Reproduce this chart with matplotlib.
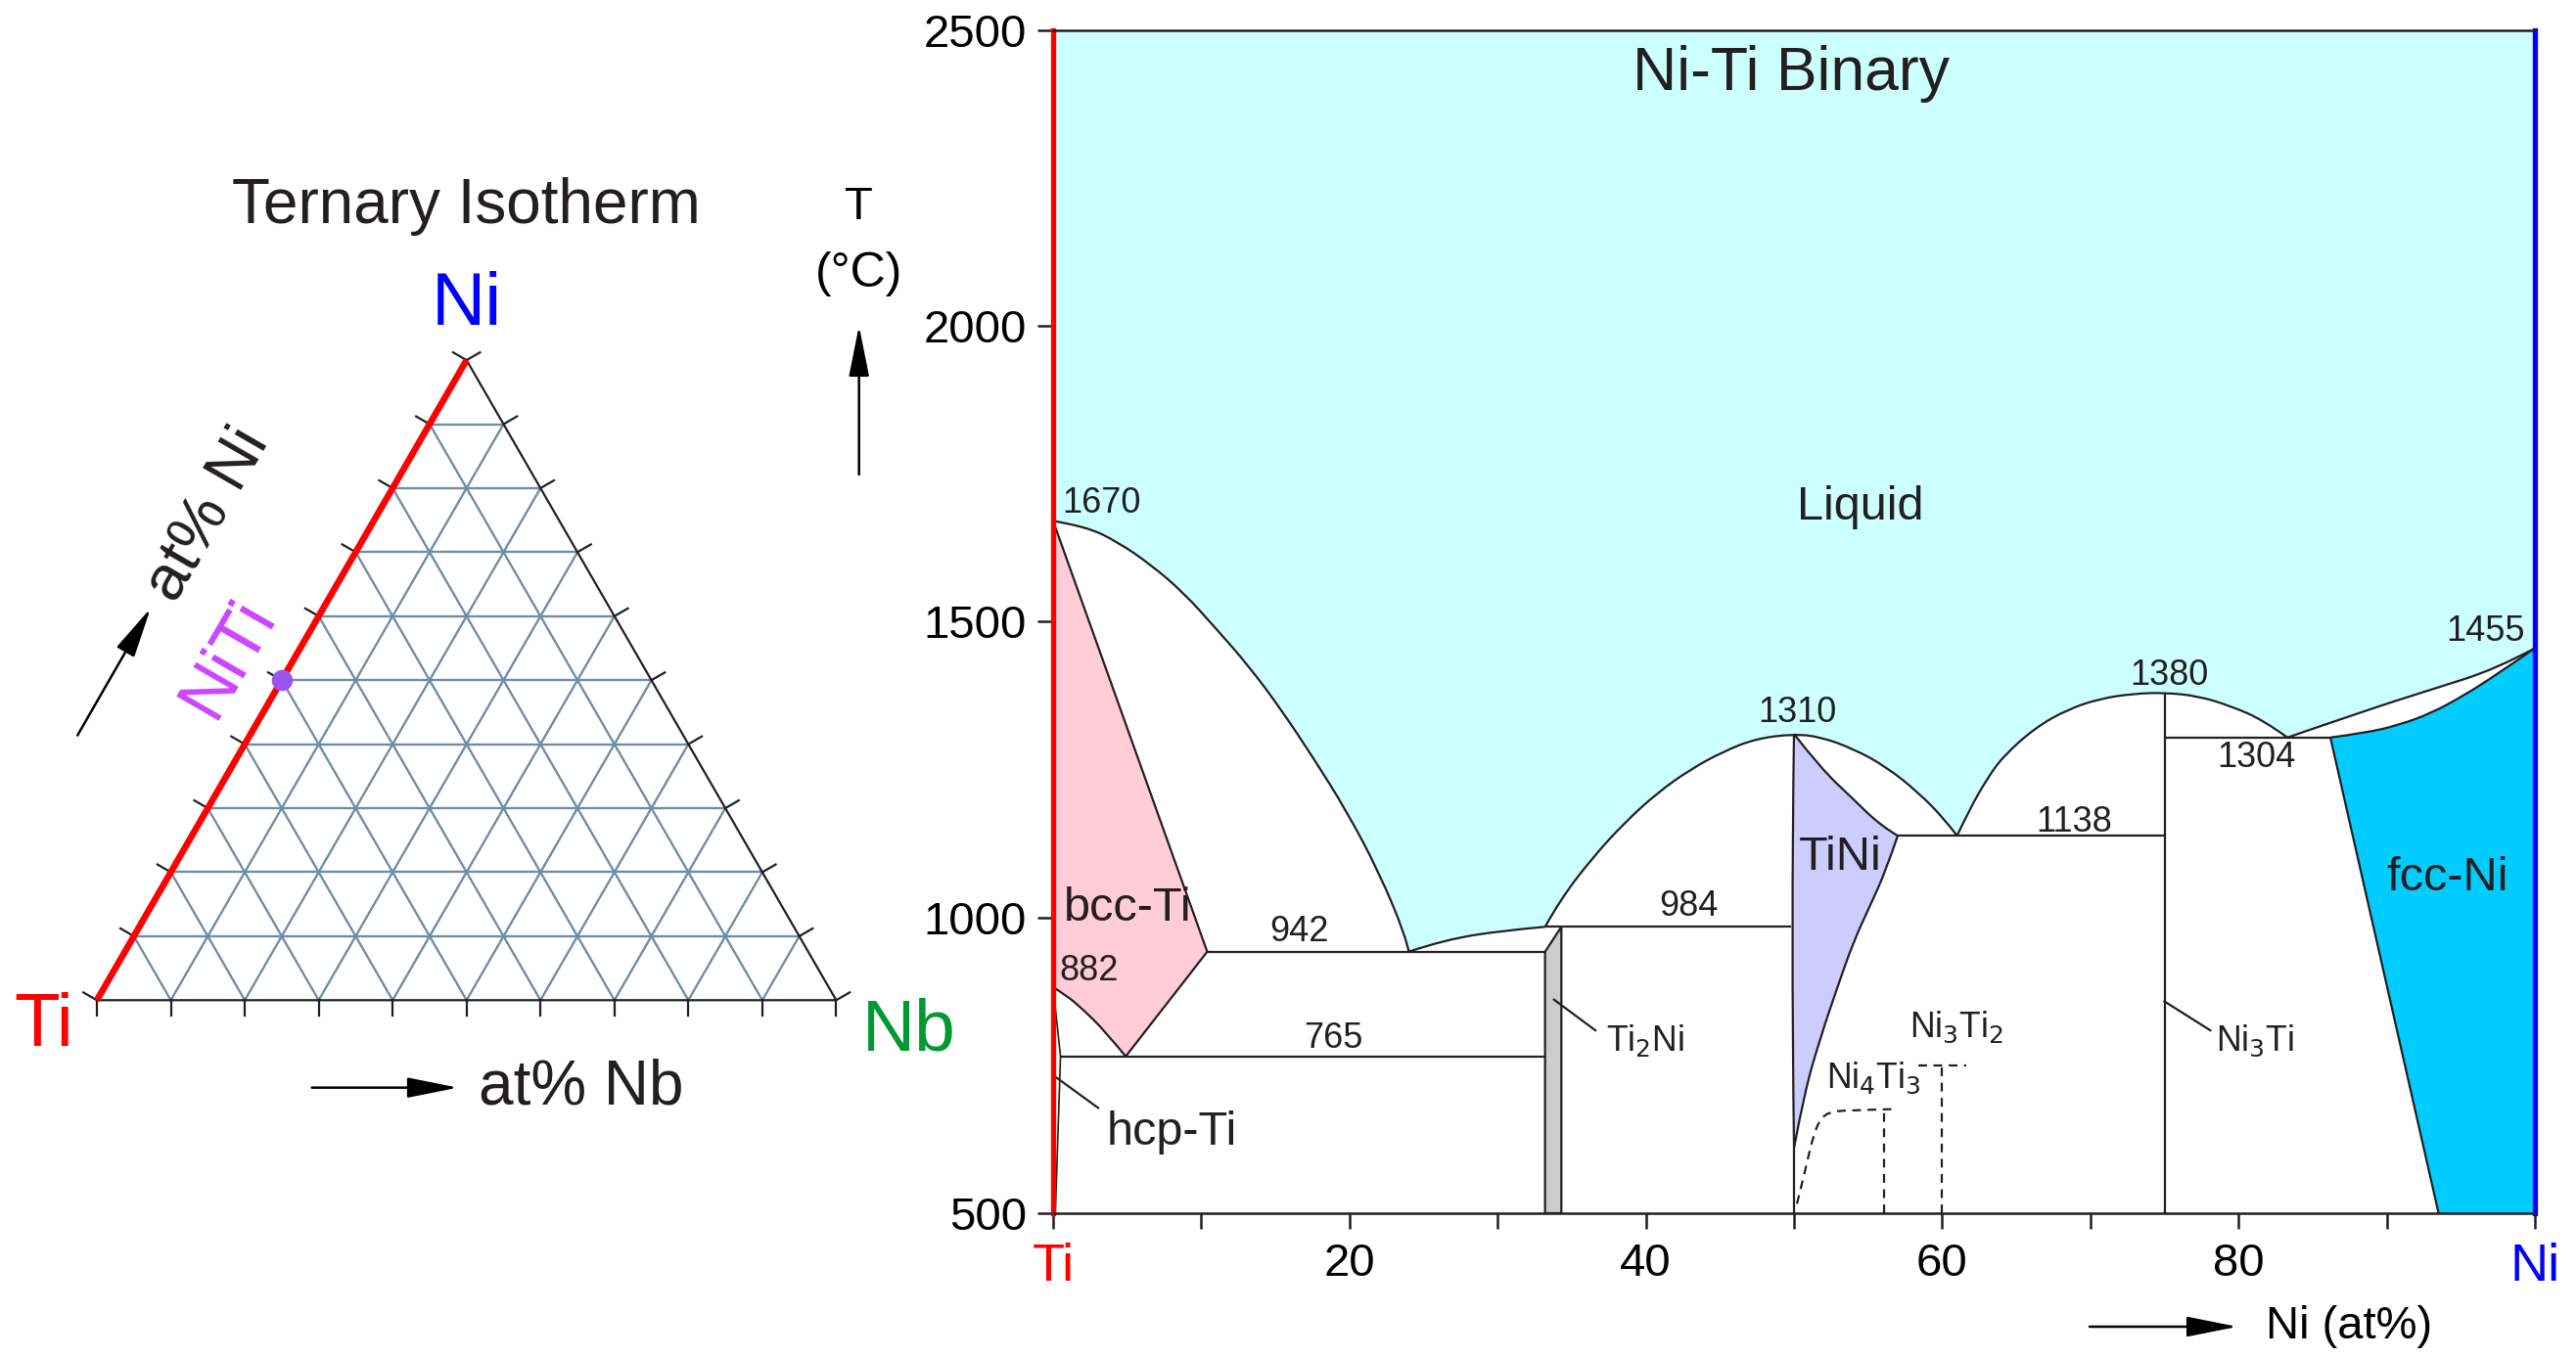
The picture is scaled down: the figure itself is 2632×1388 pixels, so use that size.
import numpy as np
import matplotlib.pyplot as plt
from matplotlib.path import Path
from matplotlib.patches import PathPatch

plt.rcParams['font.family'] = ['Liberation Sans', 'DejaVu Sans']

INK = '#231f20'
LIQ = '#ccffff'
BCC = '#ffccd8'
B2 = '#ccccff'
FCC = '#00ccff'
LAVES = '#cccccc'
GRID = '#6f8ea6'

W, H = 2632, 1388

# ---------------- Ni-Ti binary data (x = at% Ni, T in degC) ----------------
T_TI_MELT, T_NI_MELT = 1670, 1455
T_TI_TRANS = 882
T_EUTECTOID = 765
T_EUT_TI2NI = 942
T_PERI_TI2NI = 984
T_TINI_MELT = 1310
T_EUT_TINI = 1138
T_NI3TI_MELT = 1380
T_EUT_NI3TI = 1304

# liquidus branches, Ti side to Ni side
liq_ti_x = [0, 2.2, 4.4, 6.6, 8.8, 11.0, 13.2, 15.4, 17.6, 19.8, 22.0, 23.8, 24.0]
liq_ti_t = [T_TI_MELT, 1661, 1634, 1596, 1549, 1488, 1425, 1351, 1268, 1180, 1076, 968, T_EUT_TI2NI]
liq_peri_x = [24.0, 26.4, 30.4, 33.2]
liq_peri_t = [T_EUT_TI2NI, 962, 978, T_PERI_TI2NI]
liq_tini_x = [33.2, 34.2, 36.4, 38.6, 40.8, 43.0, 45.2, 47.4, 50.0,
              51.8, 54.0, 56.2, 58.4, 60.2, 61.0]
liq_tini_t = [T_PERI_TI2NI, 1029, 1101, 1161, 1211, 1250, 1280, 1302, T_TINI_MELT,
              1305, 1285, 1255, 1211, 1165, T_EUT_TINI]
liq_ni3ti_x = [61.0, 61.9, 63.0, 64.1, 66.3, 68.5, 70.7, 72.9, 75.0, 77.3, 79.5, 81.7, 83.3]
liq_ni3ti_t = [T_EUT_TINI, 1185, 1233, 1272, 1321, 1352, 1370, 1378, T_NI3TI_MELT,
               1374, 1357, 1333, T_EUT_NI3TI]
liq_ni_x = [83.3, 88.6, 93.0, 97.4, 100.0]
liq_ni_t = [T_EUT_NI3TI, 1350, 1385, 1420, T_NI_MELT]

# bcc-Ti field
bcc_sol_x = [0, 10.4]
bcc_sol_t = [T_TI_MELT, T_EUT_TI2NI]
bcc_low_x = [10.4, 4.9]
bcc_low_t = [T_EUT_TI2NI, T_EUTECTOID]
bcc_hcp_x = [4.9, 3.5, 1.95, 0.9, 0.0]
bcc_hcp_t = [T_EUTECTOID, 808, 846, 868, T_TI_TRANS]
hcp_x = [0.0, 0.5, 0.15]
hcp_t = [T_TI_TRANS, T_EUTECTOID, 500]

# Ti2Ni line compound
ti2ni_x = [33.2, 33.2, 34.3, 34.3]
ti2ni_t = [500, T_EUT_TI2NI, T_PERI_TI2NI, 500]

# TiNi (B2) field
tini_sol_x = [50.0, 51.8, 54.0, 55.8, 57.0]
tini_sol_t = [T_TINI_MELT, 1252, 1200, 1156, T_EUT_TINI]
tini_solv_x = [57.0, 56.2, 55.1, 54.0, 52.9, 51.8, 50.7, 50.0]
tini_solv_t = [T_EUT_TINI, 1079, 1018, 958, 880, 798, 704, 610]
tini_left_x = [50.0, 49.8, 50.0]
tini_left_t = [610, T_PERI_TI2NI, T_TINI_MELT]

# Ni3Ti
ni3ti_x = 75.0

# fcc-Ni field
fcc_sol_x = [86.2, 88.6, 90.8, 93.0, 95.2, 97.4, 100.0]
fcc_sol_t = [T_EUT_NI3TI, 1312, 1325, 1345, 1375, 1410, T_NI_MELT]
fcc_solv_x = [86.2, 93.5]
fcc_solv_t = [T_EUT_NI3TI, 500]

# metastable precipitates (dashed)
ni4ti3_x = [50.2, 50.7, 51.3, 51.8, 52.4, 53.5, 56.9]
ni4ti3_t = [516, 566, 632, 660, 671, 674, 676]
ni4ti3_comp = 56.1
ni3ti2_x = [58.4, 61.6]
ni3ti2_t = 749
ni3ti2_comp = 60.0

# ---------------- ternary data ----------------
grid_fracs = np.arange(1, 10) / 10
tick_fracs = np.arange(0, 11) / 10
niti_ni, niti_nb = 0.5, 0.0


def tern(ni, nb):
    return nb + 0.5 * ni, np.sqrt(3) / 2 * ni


def smooth_path(*pieces, closed=False):
    """Chain boundary pieces into one Path; points of a piece act as
    quadratic Bezier controls so the curves come out smooth."""
    verts, codes = [], []
    for xs, ts in pieces:
        pts = list(zip(xs, ts))
        if not verts:
            verts.append(pts[0])
            codes.append(Path.MOVETO)
        elif verts[-1] != pts[0]:
            verts.append(pts[0])
            codes.append(Path.LINETO)
        if len(pts) == 2:
            verts.append(pts[1])
            codes.append(Path.LINETO)
        for i in range(1, len(pts) - 1):
            if i == len(pts) - 2:
                end = pts[-1]
            else:
                end = ((pts[i][0] + pts[i + 1][0]) / 2, (pts[i][1] + pts[i + 1][1]) / 2)
            verts += [pts[i], end]
            codes += [Path.CURVE3, Path.CURVE3]
    if closed:
        verts.append(verts[0])
        codes.append(Path.CLOSEPOLY)
    return Path(verts, codes)


fig = plt.figure(figsize=(W / 200, H / 200), dpi=200)

# ================= ternary isotherm =================
axt = fig.add_axes([0, 0, 1076 / W, 1])
side = 755.4
axt.set_xlim(-99 / side, (1076 - 99) / side)
axt.set_ylim(-(H - 1022.3) / side, 1022.3 / side)
axt.axis('off')

for f in grid_fracs:
    # constant Ni
    p, q = tern(f, 0), tern(f, 1 - f)
    axt.plot([p[0], q[0]], [p[1], q[1]], color=GRID, lw=0.85, zorder=1)
    # constant Nb
    p, q = tern(0, f), tern(1 - f, f)
    axt.plot([p[0], q[0]], [p[1], q[1]], color=GRID, lw=0.85, zorder=1)
    # constant Ti
    p, q = tern(0, 1 - f), tern(1 - f, 0)
    axt.plot([p[0], q[0]], [p[1], q[1]], color=GRID, lw=0.85, zorder=1)

ti, nb, ni = tern(0, 0), tern(0, 1), tern(1, 0)
axt.plot([ti[0], nb[0], ni[0]], [ti[1], nb[1], ni[1]], color=INK, lw=0.8, zorder=2)
axt.plot([ti[0], ni[0]], [ti[1], ni[1]], color='#ff0000', lw=2.4, zorder=3,
         solid_capstyle='butt')

tl = 0.021
c30, s30 = np.cos(np.pi / 6), np.sin(np.pi / 6)
for f in tick_fracs:
    x, y = tern(0, f)
    axt.plot([x, x], [y, y - tl], color=INK, lw=0.8)
    x, y = tern(f, 0)
    axt.plot([x, x - tl * c30], [y, y + tl * s30], color=INK, lw=0.8)
    x, y = tern(f, 1 - f)
    axt.plot([x, x + tl * c30], [y, y + tl * s30], color=INK, lw=0.8)

dx, dy = tern(niti_ni, niti_nb)
axt.scatter([dx], [dy], s=60, color='#9a55f0', zorder=4, linewidths=0)

axt.text(0.5, 1.0745, 'Ternary Isotherm', ha='center', va='center', fontsize=23, color=INK)
axt.text(0.5, 0.9397, 'Ni', ha='center', va='center', fontsize=27.5, color='#0000ff')
axt.text(-0.072, -0.036, 'Ti', ha='center', va='center', fontsize=27.5, color='#ff0000')
axt.text(1.099, -0.042, 'Nb', ha='center', va='center', fontsize=27, color='#009933')
axt.text(0.655, -0.1183, 'at% Nb', ha='center', va='center', fontsize=23, color=INK)
axt.text(0.150, 0.6566, 'at% Ni', ha='center', va='center', fontsize=23.5, color=INK,
         rotation=60, rotation_mode='anchor')
axt.text(0.178, 0.462, 'NiTi', ha='center', va='center', fontsize=26, color='#cc44ff',
         rotation=60, rotation_mode='anchor')

arrow = dict(arrowstyle='-|>,head_length=0.8,head_width=0.16', lw=0.9, color='black',
             shrinkA=0, shrinkB=0, mutation_scale=20)
axt.annotate('', xy=(0.4884, -0.1183), xytext=(0.2907, -0.1183), arrowprops=arrow)
axt.annotate('', xy=(0.0728, 0.5306), xytext=(-0.0262, 0.3584), arrowprops=arrow)

# T axis caption with arrow
fig.text(877.7 / W, 1 - 211.7 / H, 'T', ha='center', va='center', fontsize=17, color='black')
fig.text(877.7 / W, 1 - 280 / H, '(°C)', ha='center', va='center', fontsize=18, color='black')
axt.annotate('', xy=(877.7 / W, 1 - 333 / H), xytext=(877.7 / W, 1 - 485 / H),
             xycoords='figure fraction', textcoords='figure fraction', arrowprops=arrow)

# ================= Ni-Ti binary =================
ax = fig.add_axes([1076 / W, 148 / H, 1514 / W, (1240 - 30.6) / H])
ax.set_xlim(0, 100)
ax.set_ylim(500, 2500)

liq_pieces = [(liq_ti_x, liq_ti_t), (liq_peri_x, liq_peri_t), (liq_tini_x, liq_tini_t),
              (liq_ni3ti_x, liq_ni3ti_t), (liq_ni_x, liq_ni_t)]
liquid = smooth_path(([0, 0], [2500, T_TI_MELT]), *liq_pieces,
                     ([100, 100], [T_NI_MELT, 2500]), closed=True)
ax.add_patch(PathPatch(liquid, fc=LIQ, ec='none', zorder=0))

bcc = smooth_path((bcc_sol_x, bcc_sol_t), (bcc_low_x, bcc_low_t), (bcc_hcp_x, bcc_hcp_t), closed=True)
ax.add_patch(PathPatch(bcc, fc=BCC, ec='none', zorder=1))
tini = smooth_path((tini_sol_x, tini_sol_t), (tini_solv_x, tini_solv_t),
                   (tini_left_x, tini_left_t), closed=True)
ax.add_patch(PathPatch(tini, fc=B2, ec='none', zorder=1))
fcc = smooth_path((fcc_sol_x, fcc_sol_t), ([100, 100], [T_NI_MELT, 500]),
                  ([100, fcc_solv_x[1]], [500, fcc_solv_t[1]]), closed=True)
ax.add_patch(PathPatch(fcc, fc=FCC, ec='none', zorder=1))
ax.fill(ti2ni_x, ti2ni_t, fc=LAVES, ec=INK, lw=0.8, zorder=2)


def boundary(*pieces, **kw):
    style = dict(fc='none', ec=INK, lw=0.8, zorder=3, capstyle='butt', joinstyle='round')
    style.update(kw)
    ax.add_patch(PathPatch(smooth_path(*pieces), **style))


for piece in liq_pieces:
    boundary(piece)
boundary((bcc_sol_x, bcc_sol_t))
boundary((bcc_low_x, bcc_low_t))
boundary((bcc_hcp_x, bcc_hcp_t))
boundary((hcp_x[:2], hcp_t[:2]), (hcp_x[1:], hcp_t[1:]), lw=0.6)
boundary(([bcc_sol_x[1], ti2ni_x[1]], [T_EUT_TI2NI] * 2))
boundary(([hcp_x[1], ti2ni_x[0]], [T_EUTECTOID] * 2))
boundary(([liq_peri_x[-1], 49.8], [T_PERI_TI2NI] * 2))
boundary((tini_sol_x, tini_sol_t))
boundary((tini_solv_x, tini_solv_t))
boundary(([50.0, 50.0], [500, 610]), (tini_left_x, tini_left_t))
boundary(([tini_sol_x[-1], ni3ti_x], [T_EUT_TINI] * 2))
boundary(([ni3ti_x, ni3ti_x], [500, T_NI3TI_MELT]))
boundary(([ni3ti_x, fcc_sol_x[0]], [T_EUT_NI3TI] * 2))
boundary((fcc_sol_x, fcc_sol_t))
boundary((fcc_solv_x, fcc_solv_t))

dash = dict(ls=(0, (4, 3)))
boundary((ni4ti3_x, ni4ti3_t), **dash)
boundary(([ni4ti3_comp, ni4ti3_comp], [500, ni4ti3_t[-1]]), **dash)
boundary((ni3ti2_x, [ni3ti2_t] * 2), **dash)
boundary(([ni3ti2_comp, ni3ti2_comp], [500, ni3ti2_t]), **dash)

# leaders for narrow phases
ax.plot([0.18, 3.04], [730, 678], color=INK, lw=0.8, zorder=3)
ax.plot([33.8, 36.6], [861, 809], color=INK, lw=0.8, zorder=3)
ax.plot([75.0, 78.1], [858, 809], color=INK, lw=0.8, zorder=3)

# temperature labels
num = dict(fontsize=13, color=INK, va='center', zorder=5)
ax.text(0.6, 1700, str(T_TI_MELT), ha='left', **num)
ax.text(0.4, 909, str(T_TI_TRANS), ha='left', **num)
ax.text(16.6, 976, str(T_EUT_TI2NI), ha='center', **num)
ax.text(18.9, 795, str(T_EUTECTOID), ha='center', **num)
ax.text(42.9, 1018, str(T_PERI_TI2NI), ha='center', **num)
ax.text(50.2, 1346, str(T_TINI_MELT), ha='center', **num)
ax.text(68.9, 1161, str(T_EUT_TINI), ha='center', **num)
ax.text(75.3, 1409, str(T_NI3TI_MELT), ha='center', **num)
ax.text(81.2, 1269, str(T_EUT_NI3TI), ha='center', **num)
ax.text(99.3, 1483, str(T_NI_MELT), ha='right', **num)

# phase labels
big = dict(fontsize=17.5, color=INK, va='center', zorder=5)
ax.text(0.7, 1015, 'bcc-Ti', ha='left', **big)
ax.text(3.6, 636, 'hcp-Ti', ha='left', **big)
ax.text(50.3, 1101, 'TiNi', ha='left', **big)
ax.text(94.1, 1067, 'fcc-Ni', ha='center', **big)
ax.text(54.5, 1693, 'Liquid', ha='center', **big)
ax.text(49.8, 2426, 'Ni-Ti Binary', ha='center', va='center', fontsize=22.5, color=INK)
small = dict(fontsize=12.8, color=INK, va='center', ha='left', zorder=5)
ax.text(37.3, 792, r'Ti$_2$Ni', **small)
ax.text(78.5, 792, r'Ni$_3$Ti', **small)
ax.text(52.2, 728, r'Ni$_4$Ti$_3$', **small)
ax.text(57.8, 814, r'Ni$_3$Ti$_2$', **small)

# axes styling
ax.spines['left'].set_color('#ff0000')
ax.spines['left'].set_linewidth(1.9)
ax.spines['right'].set_color('#0000ff')
ax.spines['right'].set_linewidth(1.9)
ax.spines['top'].set_color(INK)
ax.spines['top'].set_linewidth(0.9)
ax.spines['bottom'].set_color(INK)
ax.spines['bottom'].set_linewidth(0.9)
for s in ax.spines.values():
    s.set_zorder(6)

ax.set_xticks(np.arange(0, 101, 10))
ax.set_xticklabels(['Ti', '', '20', '', '40', '', '60', '', '80', '', 'Ni'])
ax.set_yticks(np.arange(500, 2501, 500))
ax.tick_params(direction='out', length=5.8, width=0.9, labelsize=17, color=INK)
ax.tick_params(axis='x', pad=5)
ax.tick_params(axis='y', pad=4)
labels = ax.get_xticklabels()
labels[0].set_color('#ff0000')
labels[0].set_fontsize(19.5)
labels[-1].set_color('#0000ff')
labels[-1].set_fontsize(19.5)

fig.text(2400 / W, 1 - 1356 / H, 'Ni (at%)', ha='center', va='center', fontsize=17, color='black')
ax.annotate('', xy=(2286 / W, 1 - 1356 / H), xytext=(2135 / W, 1 - 1356 / H),
            xycoords='figure fraction', textcoords='figure fraction', arrowprops=arrow)

fig.savefig('out.png', dpi=200, facecolor='white')
